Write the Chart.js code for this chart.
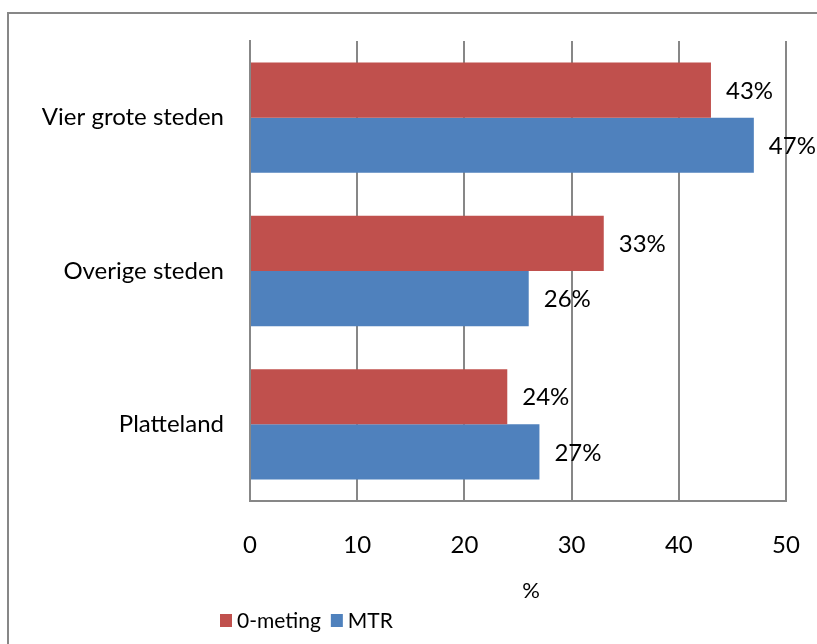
<!DOCTYPE html>
<html>
<head>
<meta charset="utf-8">
<script src="https://cdn.jsdelivr.net/npm/chart.js@4/dist/chart.umd.min.js"></script>
<style>
  html, body { margin: 0; padding: 0; background: #fff; overflow: hidden; }
  #wrap { position: relative; width: 817px; height: 644px; }
  #frame { position: absolute; left: 7px; top: 12px; width: 900px; height: 700px; border-left: 2px solid #878787; border-top: 2px solid #878787; }
  canvas { position: absolute; left: 0; top: 0; }
</style>
</head>
<body>
<div id="wrap">
  <div id="frame"></div>
  <canvas id="c" width="817" height="644"></canvas>
</div>
<script>
const categories = ["Vier grote steden", "Overige steden", "Platteland"];
const seriesNames = ["0-meting", "MTR"];
const nulmeting = [43, 33, 24];
const mtr = [47, 26, 27];
const xTicks = [0, 10, 20, 30, 40, 50];
const axisTitle = "%";

const RED = "#C0504D";
const BLUE = "#4F81BD";
const GRID = "#878787";
const FONT = "Lato, 'Open Sans', sans-serif";
const FS = 24;

const dataLabels = {
  id: "dataLabels",
  afterDatasetsDraw(chart) {
    const ctx = chart.ctx;
    ctx.save();
    ctx.font = FS + "px " + FONT;
    ctx.fillStyle = "#000";
    ctx.textAlign = "left";
    ctx.textBaseline = "middle";
    chart.data.datasets.forEach((ds, i) => {
      const meta = chart.getDatasetMeta(i);
      meta.data.forEach((bar, j) => {
        ctx.fillText(ds.data[j] + "%", bar.x + 15, bar.y + 1);
      });
    });
    ctx.restore();
  }
};

const extras = {
  id: "extras",
  afterDraw(chart) {
    const ctx = chart.ctx;
    ctx.save();
    // axis title
    ctx.font = "22px " + FONT;
    ctx.fillStyle = "#000";
    ctx.textAlign = "center";
    ctx.textBaseline = "middle";
    ctx.fillText(axisTitle, 531, 591);
    // legend
    ctx.font = "21px " + FONT;
    ctx.textAlign = "left";
    let x = 220;
    const y = 620;
    chart.data.datasets.forEach((ds) => {
      ctx.fillStyle = ds.backgroundColor;
      ctx.fillRect(x, y - 6, 12, 13);
      ctx.fillStyle = "#000";
      ctx.fillText(ds.label, x + 17, y + 1);
      x += 17 + ctx.measureText(ds.label).width + 10;
    });
    ctx.restore();
  }
};

new Chart(document.getElementById("c"), {
  type: "bar",
  data: {
    labels: categories,
    datasets: [
      { label: seriesNames[0], data: nulmeting, backgroundColor: RED, borderWidth: 0 },
      { label: seriesNames[1], data: mtr, backgroundColor: BLUE, borderWidth: 0 }
    ]
  },
  options: {
    indexAxis: "y",
    responsive: false,
    animation: false,
    layout: { padding: { left: 0, right: 31, top: 41, bottom: 41 } },
    datasets: { bar: { categoryPercentage: 0.72, barPercentage: 1.0 } },
    plugins: { legend: { display: false }, tooltip: { enabled: false } },
    scales: {
      x: {
        min: 0, max: 50,
        afterBuildTicks(scale) { scale.ticks = xTicks.map(v => ({ value: v })); },
        afterFit(scale) { scale.height = 102; },
        grid: { color: GRID, lineWidth: 2, drawTicks: true, tickLength: 30, tickColor: "rgba(0,0,0,0)" },
        border: { color: GRID, width: 2 },
        ticks: { color: "#000", font: { family: FONT, size: FS }, padding: 0, maxRotation: 0 },
        title: { display: false }
      },
      y: {
        afterFit(scale) { scale.width = 250; },
        grid: { display: false, drawTicks: false },
        border: { color: GRID, width: 2 },
        ticks: { color: "#000", font: { family: FONT, size: FS }, padding: 26 }
      }
    }
  },
  plugins: [dataLabels, extras]
});
</script>
</body>
</html>
